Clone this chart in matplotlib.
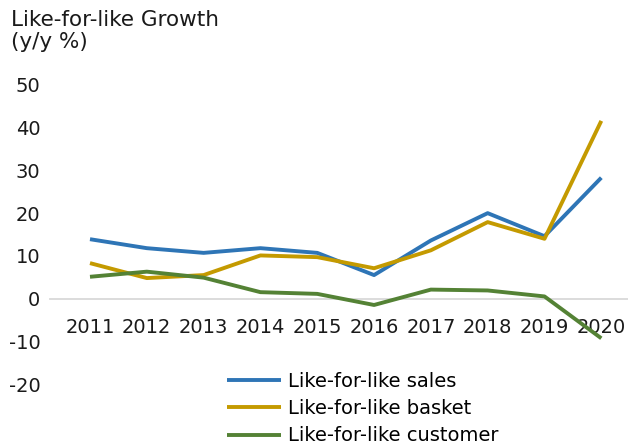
import matplotlib
matplotlib.use("Agg")
import matplotlib.pyplot as plt

years = ["2011", "2012", "2013", "2014", "2015", "2016", "2017", "2018", "2019", "2020"]
sales = [13.9, 11.8, 10.7, 11.8, 10.7, 5.5, 13.6, 20.0, 14.6, 28.3]
basket = [8.3, 4.8, 5.5, 10.1, 9.7, 7.1, 11.3, 17.9, 14.0, 41.6]
customer = [5.1, 6.3, 4.9, 1.5, 1.1, -1.5, 2.1, 1.9, 0.5, -9.3]

series = [
    ("Like-for-like sales", sales, "#2E75B6"),
    ("Like-for-like basket", basket, "#C49A00"),
    ("Like-for-like customer", customer, "#548235"),
]

plt.rcParams["font.family"] = ["DejaVu Sans"]
plt.rcParams["axes.unicode_minus"] = False

W, H = 628, 446
fig = plt.figure(figsize=(W / 100, H / 100), dpi=100)
left, right, top, bottom = 50, 628, 85, 384
ax = fig.add_axes([left / W, (H - bottom) / H, (right - left) / W, (bottom - top) / H])

x = list(range(len(years)))
for label, vals, color in series:
    ax.plot(x, vals, color=color, lw=2.8, label=label, solid_capstyle="butt")

ax.set_ylim(-20, 50)
ax.set_yticks(range(-20, 51, 10))
ax.set_xlim(-0.704, 9.47)
ax.set_xticks(x)
ax.set_xticklabels(years)

for s in ["top", "right", "left"]:
    ax.spines[s].set_visible(False)
ax.spines["bottom"].set_position(("data", 0))
ax.spines["bottom"].set_color("#D9D9D9")
ax.spines["bottom"].set_linewidth(1.3)
ax.spines["bottom"].set_zorder(0)

ax.tick_params(axis="both", length=0, labelsize=14, colors="#1a1a1a")
ax.tick_params(axis="x", pad=14)
ax.tick_params(axis="y", pad=7)

fig.text(11 / W, 1 - 10 / H, "Like-for-like Growth\n(y/y %)", ha="left", va="top",
         fontsize=15.5, color="#1a1a1a", linespacing=1.1)

fig.legend(loc="upper left", bbox_to_anchor=(227 / W, 1 - 372 / H), frameon=False,
           fontsize=14, handlelength=2.8, handletextpad=0.35, labelspacing=0.42,
           borderaxespad=0, borderpad=0)

fig.savefig("out.png", dpi=100)
